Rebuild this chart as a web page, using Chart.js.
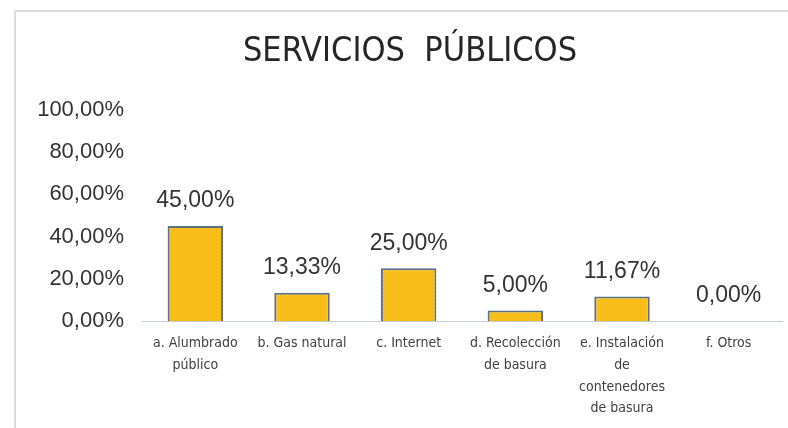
<!DOCTYPE html>
<html>
<head>
<meta charset="utf-8">
<script src="https://cdn.jsdelivr.net/npm/chart.js@4/dist/chart.umd.min.js"></script>
<style>
  html, body { margin: 0; padding: 0; background: #fff; overflow: hidden; }
  #wrap { position: relative; width: 788px; height: 428px; overflow: hidden; }
  #frame { position: absolute; left: 14px; top: 10px; width: 900px; height: 500px; border: 2px solid #dcdcdc; box-sizing: border-box; }
  #chart { position: absolute; left: 0; top: 0; }
</style>
</head>
<body>
<div id="wrap">
  <div id="frame"></div>
  <canvas id="chart" width="788" height="428"></canvas>
</div>
<script>
// chart data
const chartTitle = 'SERVICIOS  PÚBLICOS';
const categories = [
    ['a. Alumbrado', 'público'],
    ['b. Gas natural'],
    ['c. Internet'],
    ['d. Recolección', 'de basura'],
    ['e. Instalación', 'de', 'contenedores', 'de basura'],
    ['f. Otros']
];
const percentages = [45.00, 13.33, 25.00, 5.00, 11.67, 0.00];
const yTicks = [0, 20, 40, 60, 80, 100];

const condensed = "'DejaVu Sans Condensed', 'Arial Narrow', sans-serif";
const regular = "'Liberation Sans', Arial, sans-serif";

// format like 45,00%
function fmtPct(v) {
    return v.toFixed(2).replace('.', ',') + '%';
}

// dotted gold fill like the original
function makeDots() {
    const c = document.createElement('canvas');
    c.width = 4;
    c.height = 4;
    const g = c.getContext('2d');
    g.fillStyle = '#F6BB16';
    g.fillRect(0, 0, 4, 4);
    g.fillStyle = '#FCD250';
    g.fillRect(1, 1, 1, 1);
    g.fillRect(3, 3, 1, 1);
    return g.createPattern(c, 'repeat');
}

// title (drawn by hand so it sits a bit right of centre like the original)
const titleText = {
    id: 'titleText',
    afterDraw(chart) {
        const ctx = chart.ctx;
        ctx.save();
        ctx.font = '34px ' + condensed;
        ctx.fillStyle = '#262626';
        ctx.textAlign = 'center';
        ctx.textBaseline = 'middle';
        ctx.fillText(chartTitle, 410, 52);
        ctx.restore();
    }
};

// draw the value above each bar
const valueLabels = {
    id: 'valueLabels',
    afterDatasetsDraw(chart) {
        const ctx = chart.ctx;
        const meta = chart.getDatasetMeta(0);
        ctx.save();
        ctx.font = '23px ' + regular;
        ctx.fillStyle = '#333333';
        ctx.textAlign = 'center';
        ctx.textBaseline = 'middle';
        meta.data.forEach((bar, i) => {
            ctx.fillText(fmtPct(percentages[i]), bar.x, bar.y - 25);
        });
        ctx.restore();
    }
};

const ctx = document.getElementById('chart').getContext('2d');
new Chart(ctx, {
    type: 'bar',
    data: {
        labels: categories,
        datasets: [{
            data: percentages,
            backgroundColor: makeDots(),
            borderColor: '#5b7183',
            borderWidth: 2,
            barPercentage: 0.52,
            categoryPercentage: 1.0
        }]
    },
    options: {
        responsive: false,
        animation: false,
        layout: { padding: { top: 110, right: 6, bottom: 0, left: 0 } },
        plugins: {
            legend: { display: false },
            tooltip: { enabled: false },
            title: { display: false }
        },
        scales: {
            x: {
                grid: { display: false, drawTicks: false },
                border: { display: true, color: '#c3cbd9', width: 1 },
                ticks: {
                    color: '#404040',
                    font: { family: condensed, size: 14, lineHeight: 1.54 },
                    padding: 12,
                    maxRotation: 0,
                    autoSkip: false
                },
                afterFit(scale) { scale.height = 107; }
            },
            y: {
                min: 0,
                max: 100,
                grid: { display: false, drawTicks: false },
                border: { display: false },
                afterBuildTicks(scale) { scale.ticks = yTicks.map(v => ({ value: v })); },
                ticks: {
                    color: '#333333',
                    font: { family: regular, size: 22 },
                    padding: 18,
                    callback: v => fmtPct(v)
                },
                afterFit(scale) { scale.width = 142; }
            }
        }
    },
    plugins: [valueLabels, titleText]
});
</script>
</body>
</html>
